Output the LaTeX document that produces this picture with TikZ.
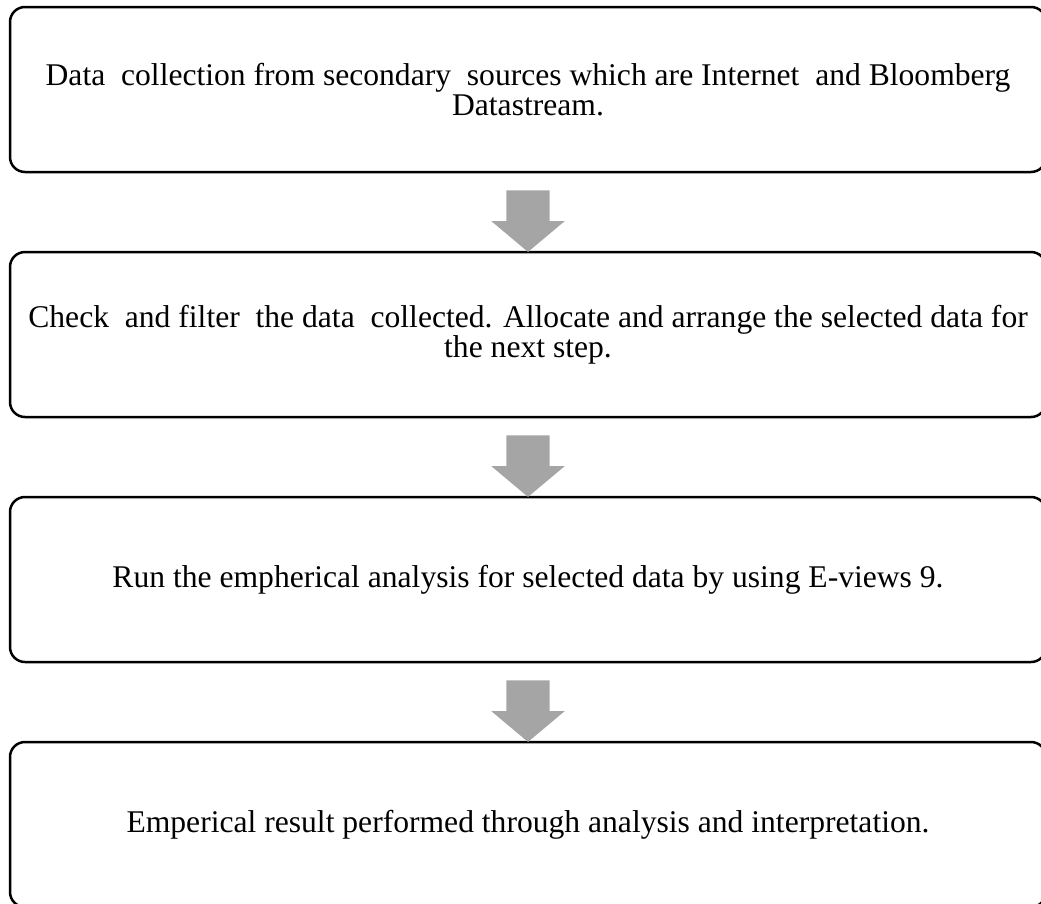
\documentclass[tikz,border=0pt]{standalone}
\usepackage{fontspec}
\setmainfont{Liberation Serif}
\usetikzlibrary{positioning,calc,shapes.arrows}
\definecolor{StepGray}{RGB}{165,165,165}
\tikzset{
  stepbox/.style={draw=black,line width=2.5pt,rounded corners=15pt,fill=white,
    minimum width=1036pt,minimum height=165pt,align=center,
    inner sep=0pt,font=\fontsize{31.6}{30}\selectfont},
  downarrow/.style={single arrow,fill=StepGray,draw=none,shape border rotate=270,
    minimum height=61pt,minimum width=73pt,single arrow head extend=15pt,
    single arrow tip angle=100,inner sep=21.5pt}
}

\begin{document}
\begin{tikzpicture}[node distance=77.5pt]
  \useasboundingbox (0,0) rectangle (1041pt,-903pt);
  \node[stepbox] (collect) at (528pt,-89.5pt)
    {Data~ collection from secondary~ sources which are Internet~ and Bloomberg\\Datastream.};
  \node[stepbox,below=of collect] (filter)
    {Check~ and filter~ the data~ collected. Allocate and arrange the selected data for\\the next step.};
  \node[stepbox,below=of filter] (analysis)
    {Run the empherical analysis for selected data by using E-views 9.};
  \node[stepbox,below=of analysis] (result)
    {Emperical result performed through analysis and interpretation.};
  \node[downarrow] (a1) at ($(collect.south)!0.5!(filter.north)$) {};
  \node[downarrow] (a2) at ($(filter.south)!0.5!(analysis.north)$) {};
  \node[downarrow] (a3) at ($(analysis.south)!0.5!(result.north)$) {};
\end{tikzpicture}
\end{document}
